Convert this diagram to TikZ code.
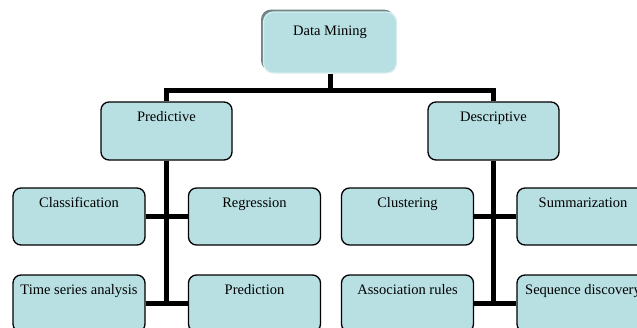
\documentclass[tikz,border=0pt]{standalone}
\usepackage{fontspec}
\setmainfont{Liberation Serif}
\usetikzlibrary{shadows}
\definecolor{boxfill}{HTML}{B8E0E3}
\definecolor{bevel}{HTML}{6F8484}
\definecolor{rim}{HTML}{D6EEF0}
\begin{document}
\begin{tikzpicture}[x=1pt, y=-1pt,
		every node/.style={font=\fontsize{14.5}{16}\selectfont},
		leaf/.style={draw=black, line width=1.3pt, fill=boxfill, rounded corners=8pt,
			minimum width=132pt, inner xsep=0pt, inner ysep=0pt,
			text height=19pt, text depth=38pt},
		branch/.style={leaf, minimum width=131pt, text depth=39pt},
		rootbox/.style={fill=boxfill, draw=rim, line width=1.2pt, rounded corners=10pt,
			minimum width=133pt, inner xsep=0pt, inner ysep=0pt,
			text height=23pt, text depth=38pt,
			general shadow={fill=bevel, shadow xshift=-2.5pt, shadow yshift=2.5pt}},
		trunk/.style={line width=5pt, black}]
		\useasboundingbox (0,0) rectangle (637,327);
		\clip (0,0) rectangle (637,327);

		% root
		\node[rootbox] (dm) at (330,42.5) {Data Mining};

		% second level
		\node[branch] (pred) at (166.5,131) {Predictive};
		\node[branch] (desc) at (493.5,131) {Descriptive};

		% leaves
		\node[leaf] (cls) at (79,216.5) {Classification};
		\node[leaf] (reg) at (254.5,216.5) {Regression};
		\node[leaf] (tsa) at (79,303.5) {Time series analysis};
		\node[leaf] (pdn) at (254.5,303.5) {Prediction};
		\node[leaf] (clu) at (407.5,216.5) {Clustering};
		\node[leaf] (summ) at (583,216.5) {Summarization};
		\node[leaf] (asr) at (407.5,303.5) {Association rules};
		\node[leaf] (seq) at (583,303.5) {Sequence discovery};

		% connectors
		\draw[trunk] (dm.south) -- ++(0,16.5) coordinate (split);
		\draw[trunk] (pred.north) |- (split) -| (desc.north);

		\draw[trunk] (pred.south) -- (pred.south |- tsa.east);
		\draw[trunk] (cls.east) -- (reg.west);
		\draw[trunk] (tsa.east) -- (pdn.west);

		\draw[trunk] (desc.south) -- (desc.south |- asr.east);
		\draw[trunk] (clu.east) -- (summ.west);
		\draw[trunk] (asr.east) -- (seq.west);
	\end{tikzpicture}
\end{document}
